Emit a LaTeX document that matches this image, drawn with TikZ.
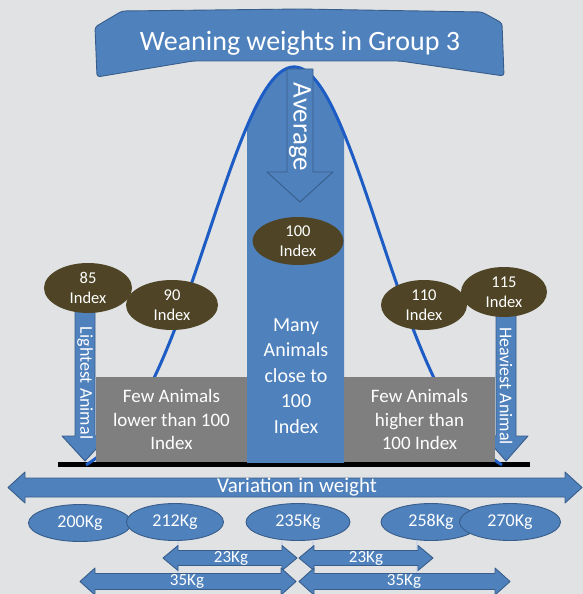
\documentclass[tikz,border=0pt]{standalone}
\usepackage{fontspec}
\setmainfont{Carlito}
\usetikzlibrary{shapes.geometric}
\definecolor{bgc}{RGB}{225,226,228}
\definecolor{sblue}{RGB}{79,129,189}
\definecolor{oblue}{RGB}{56,93,138}
\definecolor{bellc}{RGB}{28,92,196}
\definecolor{gbox}{RGB}{127,127,127}
\definecolor{olive}{RGB}{79,69,38}
\definecolor{thinl}{RGB}{205,215,232}
\newcommand{\fsz}[2]{\fontsize{#1}{#2}\selectfont}
% horizontal double arrow: x1 x2 yc bodyhalf headhalf headlen
\newcommand{\hdarrow}[6]{%
  \filldraw[shapebox] (#1,#3) -- ({#1+#6},{#3-#5}) -- ({#1+#6},{#3-#4}) -- ({#2-#6},{#3-#4}) -- ({#2-#6},{#3-#5}) -- (#2,#3) -- ({#2-#6},{#3+#5}) -- ({#2-#6},{#3+#4}) -- ({#1+#6},{#3+#4}) -- ({#1+#6},{#3+#5}) -- cycle;}
\tikzset{
  shapebox/.style={fill=sblue, draw=oblue, line width=0.9pt, line join=round},
  lbl/.style={text=white, inner sep=0pt, align=center},
  idx/.style={ellipse, fill=olive, draw=none, text=white, inner sep=0pt, align=center, font=\fsz{16.5}{20.5}},
  kg/.style={ellipse, fill=sblue, draw=oblue, line width=0.9pt, text=white, inner sep=0pt, font=\fsz{18}{20}},
  graybox/.style={fill=gbox, draw=none, text=white, align=center, inner sep=0pt, font=\fsz{19}{23.5}},
  bellline/.style={draw=bellc, line width=3pt},
  marker/.style={draw=thinl, line width=1.2pt},
}
\begin{document}
\begin{tikzpicture}[x=1pt,y=-1pt]
\useasboundingbox (0,0) rectangle (583,594);
\fill[bgc] (0,0) rectangle (583,594);
% baseline
\fill[black] (58,462) rectangle (530,467);
% central column clipped to the bell
\begin{scope}
  \clip (247,0) rectangle (344,462);
  \fill[sblue] plot[domain=-2.08:2.08, samples=90, smooth] ({294+100*\x},{465-398*(exp(-\x*\x/1.445)-0.05)/0.95}) -- cycle;
\end{scope}
% bell curve
\draw[bellline] plot[domain=-2.08:2.08, samples=90, smooth] ({294+100*\x},{465-398*(exp(-\x*\x/1.445)-0.05)/0.95});
% title banner
\filldraw[shapebox, rounded corners=3pt] (95,27) -- (122,11) -- (300,9) -- (482,12) -- (502,23) -- (504,76) -- (400,61) -- (193,61) -- (97,77) -- cycle;
\node[lbl, font=\fsz{28}{32}] (title) at (300,43) {Weaning weights in Group 3};
% average arrow
\filldraw[shapebox] (287,69) -- (313,69) -- (313,172) -- (333,172) -- (300,202) -- (267,172) -- (287,172) -- cycle;
\node[lbl, rotate=-90, font=\fsz{27}{30}] (avg) at (300,127) {Average};
% side arrows
\filldraw[shapebox] (75,305) -- (95,305) -- (95,436) -- (108,436) -- (85,461) -- (62,436) -- (75,436) -- cycle;
\node[lbl, rotate=-90, font=\fsz{18}{20}] (light) at (85,383) {Lightest Animal};
\filldraw[shapebox] (496,310) -- (516,310) -- (516,436) -- (528,436) -- (506,461) -- (484,436) -- (496,436) -- cycle;
\node[lbl, rotate=-90, font=\fsz{18}{20}] (heavy) at (506,386) {Heaviest Animal};
% gray boxes
\node[graybox, minimum width=151pt, minimum height=85pt] (lowbox) at (171.5,419.5) {Few Animals\\lower than 100\\Index};
\node[graybox, minimum width=151pt, minimum height=85pt] (highbox) at (419.5,419.5) {Few Animals\\higher than\\100 Index};
% column text
\node[lbl, font=\fsz{20}{25.5}] (many) at (296,376) {Many\\Animals\\close to\\100\\Index};
% index badges
\node[idx, minimum width=88pt, minimum height=50pt] (i85) at (88,288) {85\\Index};
\node[idx, minimum width=92pt, minimum height=50pt] (i90) at (172,305) {90\\Index};
\node[idx, minimum width=91pt, minimum height=48pt] (i100) at (298,241) {100\\Index};
\node[idx, minimum width=86pt, minimum height=50pt] (i110) at (424,305) {110\\Index};
\node[idx, minimum width=86pt, minimum height=50pt] (i115) at (504,292) {115\\Index};
% variation arrow
\hdarrow{8}{582}{487.5}{9.5}{15.5}{17}
\node[lbl, font=\fsz{21}{24}] (var) at (297,487) {Variation in weight};
% weight badges
\node[kg, minimum width=103pt, minimum height=37pt] (k200) at (80,523) {200Kg};
\node[kg, minimum width=97pt, minimum height=37pt] (k212) at (175,522) {212Kg};
\node[kg, minimum width=104pt, minimum height=37pt] (k235) at (298,522) {235Kg};
\node[kg, minimum width=100pt, minimum height=37pt] (k258) at (431,522) {258Kg};
\node[kg, minimum width=101pt, minimum height=37pt] (k270) at (510,522) {270Kg};
% markers
\draw[marker] ([xshift=3pt]k212.south) -- ++(0,35);
\draw[marker] ([xshift=-16pt]k235.south) -- ++(0,35);
\draw[marker] ([xshift=15pt]k235.south) -- ++(0,35);
\draw[marker] ([xshift=-14pt]k258.south) -- ++(0,35);
% difference arrows
\hdarrow{163}{297}{558}{7.5}{12.5}{15}
\node[lbl, font=\fsz{17}{20}] (d23a) at (231,558) {23Kg};
\hdarrow{299}{433}{558}{7.5}{12.5}{15}
\node[lbl, font=\fsz{17}{20}] (d23b) at (366,558) {23Kg};
\hdarrow{80}{296}{581.5}{8}{13.5}{15}
\node[lbl, font=\fsz{17}{20}] (d35a) at (187,581) {35Kg};
\hdarrow{299}{510}{581.5}{8}{13.5}{15}
\node[lbl, font=\fsz{17}{20}] (d35b) at (404,581) {35Kg};
\end{tikzpicture}
\end{document}
